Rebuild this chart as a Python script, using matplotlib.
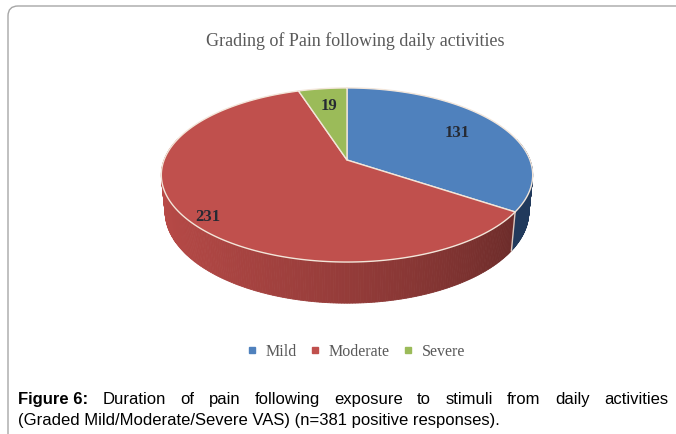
import numpy as np
import matplotlib
matplotlib.use("Agg")
import matplotlib.pyplot as plt
from matplotlib.patches import Polygon, FancyBboxPatch
from matplotlib.lines import Line2D
from matplotlib.colors import to_rgb

# data
categories = ["Mild", "Moderate", "Severe"]
values = [131, 231, 19]
top_colors = ["#4f81bd", "#c0504d", "#9bbb59"]
side_colors = ["#213a5c", "#b84a47", "#6f8a3a"]
title = "Grading of Pain following daily activities"
caption_bold = "Figure 6:"
caption_line1 = "Duration of pain following exposure to stimuli from daily activities"
caption_line2 = "(Graded Mild/Moderate/Severe VAS) (n=381 positive responses)."

# perspective view of the pie disc (pixel space)
CX, CY = 347, 160
ELEV = np.radians(27.5)
DIST = 5.15
FOC = 942
THICK = 0.228


def project(x, y, z):
    se, ce = np.sin(ELEV), np.cos(ELEV)
    v = y * se + z * ce
    w = y * ce - z * se
    return CX + FOC * x / (DIST + w), CY - FOC * v / (DIST + w)


fig = plt.figure(figsize=(6.76, 4.34), dpi=100)
ax = fig.add_axes([0, 0, 1, 1])
ax.set_xlim(0, 676)
ax.set_ylim(434, 0)
ax.axis("off")

# outer rounded frame
frame = FancyBboxPatch((8, 6), 720, 480, boxstyle="round,pad=0,rounding_size=10",
                       fc="white", ec="#a6a6a6", lw=1.0, zorder=0)
ax.add_patch(frame)

total = sum(values)
bounds = [90.0]
for v in values:
    bounds.append(bounds[-1] - v / total * 360.0)

# side walls (front part only)
for i, (a0, a1) in enumerate(zip(bounds[:-1], bounds[1:])):
    ts = np.radians(np.linspace(a0, a1, 300))
    base = np.array(to_rgb(side_colors[i]))
    for t0, t1 in zip(ts[:-1], ts[1:]):
        if np.sin(t0) > 0.25 and np.sin(t1) > 0.25:
            continue
        xs = [np.cos(t0), np.cos(t1), np.cos(t1), np.cos(t0)]
        ys = [np.sin(t0), np.sin(t1), np.sin(t1), np.sin(t0)]
        zs = [0, 0, -THICK, -THICK]
        px, py = project(np.array(xs), np.array(ys), np.array(zs))
        if i == 1:
            f = 0.5 + 0.5 * (1 - (np.cos(t0) + 1) / 2) ** 0.7
        else:
            f = 1.0
        c = np.clip(base * f, 0, 1)
        ax.add_patch(Polygon(np.c_[px, py], closed=True, fc=c, ec=c, lw=0.6, zorder=2))

# boundary between Mild and Moderate side walls
tb = np.radians(bounds[1])
px, py = project(np.array([np.cos(tb)] * 2), np.array([np.sin(tb)] * 2), np.array([0, -THICK]))
ax.plot(px, py, color="#d8c8c0", lw=1.0, zorder=3)

# top faces
for i, (a0, a1) in enumerate(zip(bounds[:-1], bounds[1:])):
    ts = np.radians(np.linspace(a0, a1, 200))
    xs = np.r_[0, np.cos(ts)]
    ys = np.r_[0, np.sin(ts)]
    px, py = project(xs, ys, np.zeros_like(xs))
    ax.add_patch(Polygon(np.c_[px, py], closed=True, fc=top_colors[i], ec="#f3e6da",
                         lw=1.0, zorder=4, joinstyle="round"))

# value labels
label_r = [0.72, 0.91, 0.72]
label_shift = [0, 4.6, 0]
for i, (a0, a1) in enumerate(zip(bounds[:-1], bounds[1:])):
    tm = np.radians((a0 + a1) / 2 + label_shift[i])
    lx, ly = project(label_r[i] * np.cos(tm), label_r[i] * np.sin(tm), 0.0)
    ax.text(lx, ly, str(values[i]), ha="center", va="center", fontsize=12,
            fontweight="bold", family="Liberation Serif", color="#262a33", zorder=5)

# title
ax.text(355, 41, title, ha="center", va="center", fontsize=13,
        family="Liberation Serif", color="#595959")

# legend
handles = [Line2D([], [], ls="none", marker="s", ms=4, mfc=c, mec=c) for c in top_colors]
leg = ax.legend(handles, categories, loc="center", bbox_to_anchor=(356 / 676, 1 - 352 / 434),
                ncol=3, frameon=False, handlelength=0.7, handletextpad=0.5, columnspacing=0.8,
                prop={"family": "Liberation Serif", "size": 11.5})
for t in leg.get_texts():
    t.set_color("#595959")

# caption, first line justified between x=18 and x=668
cap_kw = dict(fontsize=12, family="Liberation Sans", color="black", va="baseline")
tb_ = ax.text(18, 404, caption_bold, fontweight="bold", **cap_kw)
words = caption_line1.split()
word_objs = [ax.text(0, 404, w, **cap_kw) for w in words]
fig.canvas.draw()
renderer = fig.canvas.get_renderer()


def width_px(t):
    return t.get_window_extent(renderer).width


bold_w = width_px(tb_)
widths = [width_px(t) for t in word_objs]
left = 18 + bold_w
right = 668
gap = (right - left - sum(widths)) / len(words)
x = left + gap
for t, w in zip(word_objs, widths):
    t.set_x(x)
    x += w + gap
ax.text(18, 425, caption_line2, **cap_kw)

fig.savefig("out.png", dpi=100)
